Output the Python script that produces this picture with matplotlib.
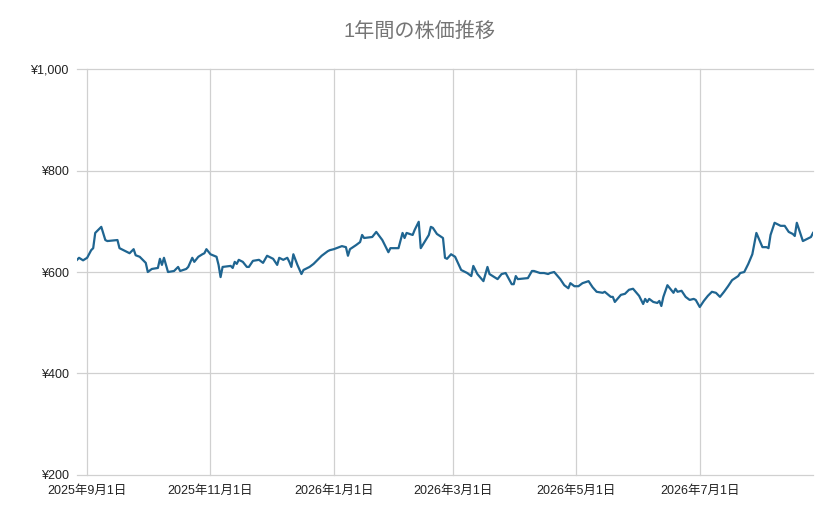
import numpy as np
import pandas as pd
import matplotlib
matplotlib.use("Agg")
import matplotlib.pyplot as plt
from matplotlib.ticker import FuncFormatter

plt.rcParams['font.family'] = ['Liberation Sans', 'Noto Sans CJK JP', 'DejaVu Sans']

## DATA
dates = [
    "2025-08-27", "2025-08-28", "2025-08-30", "2025-09-01", "2025-09-03", "2025-09-04",
    "2025-09-05", "2025-09-08", "2025-09-10", "2025-09-11", "2025-09-16", "2025-09-17",
    "2025-09-20", "2025-09-22", "2025-09-24", "2025-09-25", "2025-09-27", "2025-09-30",
    "2025-10-01", "2025-10-03", "2025-10-06", "2025-10-07", "2025-10-08", "2025-10-09",
    "2025-10-11", "2025-10-14", "2025-10-16", "2025-10-17", "2025-10-20", "2025-10-21",
    "2025-10-23", "2025-10-24", "2025-10-26", "2025-10-28", "2025-10-29", "2025-10-30",
    "2025-11-01", "2025-11-04", "2025-11-05", "2025-11-06", "2025-11-07", "2025-11-11",
    "2025-11-12", "2025-11-13", "2025-11-14", "2025-11-15", "2025-11-17", "2025-11-19",
    "2025-11-20", "2025-11-22", "2025-11-25", "2025-11-27", "2025-11-29", "2025-12-01",
    "2025-12-02", "2025-12-04", "2025-12-05", "2025-12-07", "2025-12-09", "2025-12-10",
    "2025-12-11", "2025-12-12", "2025-12-14", "2025-12-16", "2025-12-17", "2025-12-20",
    "2025-12-22", "2025-12-26", "2025-12-29", "2025-12-30", "2026-01-01", "2026-01-05",
    "2026-01-07", "2026-01-08", "2026-01-09", "2026-01-12", "2026-01-14", "2026-01-15",
    "2026-01-16", "2026-01-20", "2026-01-22", "2026-01-25", "2026-01-28", "2026-01-29",
    "2026-02-02", "2026-02-04", "2026-02-05", "2026-02-06", "2026-02-09", "2026-02-10",
    "2026-02-12", "2026-02-13", "2026-02-17", "2026-02-18", "2026-02-19", "2026-02-21",
    "2026-02-24", "2026-02-25", "2026-02-26", "2026-02-28", "2026-03-02", "2026-03-05",
    "2026-03-06", "2026-03-08", "2026-03-10", "2026-03-11", "2026-03-13", "2026-03-16",
    "2026-03-18", "2026-03-19", "2026-03-23", "2026-03-25", "2026-03-27", "2026-03-30",
    "2026-03-31", "2026-04-01", "2026-04-02", "2026-04-07", "2026-04-09", "2026-04-10",
    "2026-04-13", "2026-04-15", "2026-04-17", "2026-04-18", "2026-04-20", "2026-04-23",
    "2026-04-25", "2026-04-27", "2026-04-28", "2026-04-30", "2026-05-02", "2026-05-04",
    "2026-05-07", "2026-05-09", "2026-05-11", "2026-05-14", "2026-05-15", "2026-05-18",
    "2026-05-19", "2026-05-20", "2026-05-23", "2026-05-25", "2026-05-27", "2026-05-29",
    "2026-06-01", "2026-06-03", "2026-06-04", "2026-06-05", "2026-06-06", "2026-06-08",
    "2026-06-10", "2026-06-11", "2026-06-12", "2026-06-13", "2026-06-15", "2026-06-18",
    "2026-06-19", "2026-06-20", "2026-06-22", "2026-06-24", "2026-06-26", "2026-06-28",
    "2026-06-29", "2026-07-01", "2026-07-03", "2026-07-05", "2026-07-07", "2026-07-09",
    "2026-07-11", "2026-07-13", "2026-07-15", "2026-07-17", "2026-07-20", "2026-07-21",
    "2026-07-23", "2026-07-25", "2026-07-27", "2026-07-29", "2026-08-01", "2026-08-03",
    "2026-08-04", "2026-08-05", "2026-08-07", "2026-08-10", "2026-08-12", "2026-08-14",
    "2026-08-16", "2026-08-17", "2026-08-18", "2026-08-21", "2026-08-23", "2026-08-25",
    "2026-08-26",
]
prices = [
    624, 628, 623, 628, 643, 647,
    677, 689, 663, 661, 663, 647,
    641, 637, 645, 633, 630, 618,
    600, 606, 608, 626, 614, 628,
    600, 602, 610, 602, 606, 610,
    628, 620, 630, 635, 637, 645,
    635, 630, 614, 590, 610, 612,
    608, 620, 616, 624, 620, 610,
    610, 622, 624, 618, 632, 628,
    626, 614, 628, 624, 628, 620,
    610, 635, 614, 596, 604, 610,
    616, 632, 641, 643, 645, 651,
    649, 632, 645, 653, 659, 673,
    667, 669, 679, 663, 639, 647,
    647, 677, 667, 677, 673, 683,
    699, 647, 673, 689, 687, 675,
    667, 628, 626, 635, 630, 604,
    602, 598, 592, 612, 596, 582,
    610, 596, 586, 596, 598, 576,
    576, 592, 586, 588, 602, 602,
    598, 598, 596, 598, 600, 586,
    574, 568, 578, 572, 572, 578,
    582, 570, 561, 559, 561, 551,
    551, 541, 555, 557, 565, 567,
    553, 537, 547, 541, 547, 541,
    539, 543, 533, 551, 574, 559,
    567, 561, 563, 551, 545, 547,
    545, 531, 543, 553, 561, 559,
    551, 561, 572, 584, 592, 598,
    600, 616, 635, 677, 649, 649,
    647, 673, 697, 691, 691, 679,
    675, 671, 697, 661, 665, 669,
    677,
]
tick_dates = ["2025-09-01", "2025-11-01", "2026-01-01", "2026-03-01", "2026-05-01", "2026-07-01"]
y_ticks = [200, 400, 600, 800, 1000]
title = "1年間の株価推移"

x = pd.to_datetime(dates)
ticks = pd.to_datetime(tick_dates)

## PLOT
fig = plt.figure(figsize=(8.39, 5.19), dpi=100)
ax = fig.add_axes([0.0918, 0.0848, 0.8772, 0.7822])

ax.plot(x, prices, color="#1f6591", linewidth=1.6, zorder=3)

ax.set_ylim(200, 1000)
ax.set_yticks(y_ticks)
ax.yaxis.set_major_formatter(FuncFormatter(lambda v, p: "¥{:,.0f}".format(v)))
ax.set_xlim(x[0], x[-1])
ax.set_xticks(ticks)
ax.set_xticklabels([f"{d.year}年{d.month}月{d.day}日" for d in ticks])

ax.grid(True, color="#d0d0d0", linewidth=0.9)
ax.set_axisbelow(True)
# keep the gridline on the bottom edge (¥200) fully visible
for gl in ax.get_ygridlines() + ax.get_xgridlines():
    gl.set_clip_on(False)
for s in ax.spines.values():
    s.set_visible(False)
ax.tick_params(axis="both", length=0, labelsize=9, colors="#222222")
ax.tick_params(axis="y", pad=6)
ax.tick_params(axis="x", pad=7)

fig.suptitle(title, x=0.5, y=0.958, fontsize=14.5, color="#757575")

fig.savefig("out.png", dpi=100)
